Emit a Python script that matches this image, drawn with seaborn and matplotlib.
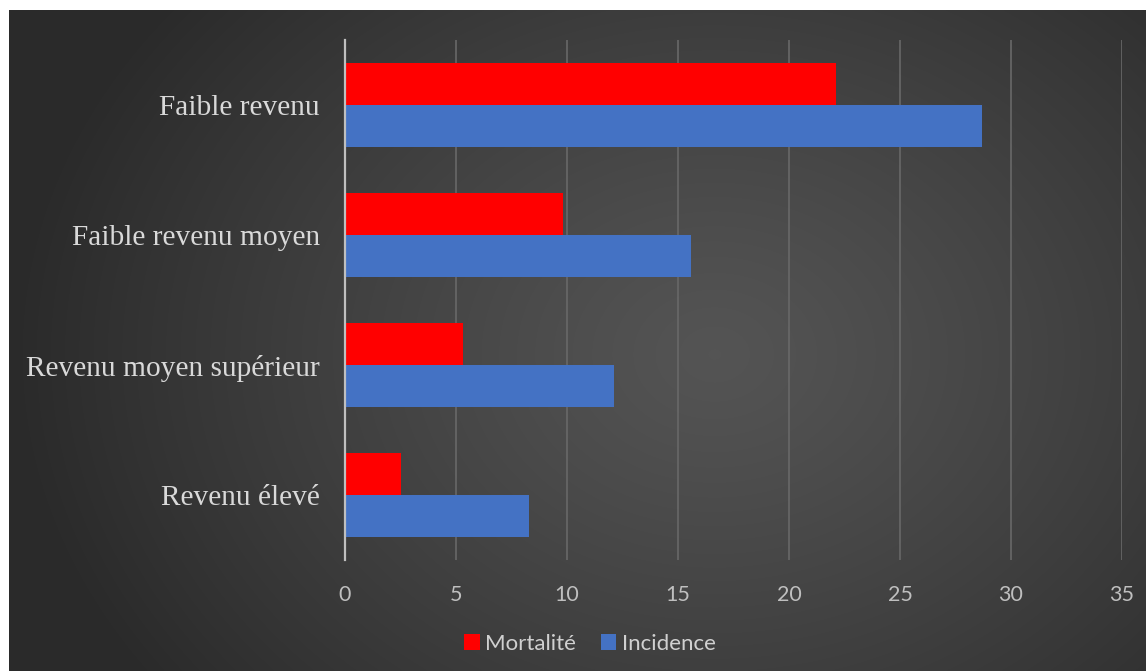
import numpy as np
import pandas as pd
import matplotlib
matplotlib.use("Agg")
import matplotlib.pyplot as plt
import seaborn as sns
from matplotlib.patches import Patch

categories = ["Faible revenu", "Faible revenu moyen", "Revenu moyen supérieur", "Revenu élevé"]
mortalite = [22.1, 9.8, 5.3, 2.5]
incidence = [28.7, 15.6, 12.1, 8.3]
series = ["Mortalité", "Incidence"]
colors = ["#FF0000", "#4472C4"]
xticks = [0, 5, 10, 15, 20, 25, 30, 35]

df = pd.DataFrame({
    "cat": categories * 2,
    "val": mortalite + incidence,
    "serie": [series[0]] * len(categories) + [series[1]] * len(categories),
})

sns.set_theme(style="white")
plt.rcParams["font.family"] = ["DejaVu Sans"]

W, H = 1146, 671
fig = plt.figure(figsize=(W / 100, H / 100), dpi=100)
fig.patch.set_facecolor("white")

# background panel with radial gradient (starts 9px from left, 10px from top)
bx0 = 9 / W
by1 = 1 - 10 / H
bg = fig.add_axes([bx0, 0, 1 - bx0, by1])
bg.set_axis_off()
ny, nx = 400, 700
yy, xx = np.mgrid[0:ny, 0:nx]
cx, cy = nx * 0.62, ny * 0.52
r = np.sqrt(((xx - cx) / (nx * 0.62)) ** 2 + ((yy - cy) / (ny * 0.85)) ** 2)
r = np.clip(r, 0, 1)
val = 0.33 - (0.33 - 0.165) * r ** 1.2
img = np.dstack([val, val, val])
bg.imshow(img, aspect="auto", extent=[0, 1, 0, 1], interpolation="bilinear")
bg.set_xlim(0, 1)
bg.set_ylim(0, 1)

ax = fig.add_axes([345 / W, 1 - 560 / H, (1122 - 345) / W, (560 - 40) / H])
ax.set_facecolor("none")
ax.patch.set_alpha(0)

sns.barplot(data=df, y="cat", x="val", hue="serie", order=categories,
            hue_order=series, palette=colors, orient="h", width=0.646,
            gap=0, ax=ax, legend=False, saturation=1, edgecolor="none")

ax.set_xlim(0, 35)
ax.set_ylim(3.5, -0.5)
ax.set_xticks(xticks)
ax.set_xticklabels([str(t) for t in xticks])
ax.grid(axis="x", color="#686868", linewidth=1.2)
ax.grid(axis="y", visible=False)
ax.set_axisbelow(True)
for s in ["top", "right", "bottom"]:
    ax.spines[s].set_visible(False)
ax.spines["left"].set_color("#bfbfbf")
ax.spines["left"].set_linewidth(1.6)
ax.set_xlabel("")
ax.set_ylabel("")
ax.tick_params(axis="x", length=0, pad=18, labelsize=15.5, labelcolor="#bfbfbf")
ax.tick_params(axis="y", length=0, pad=18, labelcolor="#d9d9d9")
for lab in ax.get_xticklabels():
    lab.set_family("Lato")
for lab in ax.get_yticklabels():
    lab.set_family("Liberation Serif")
    lab.set_fontsize(21.2)

handles = [Patch(facecolor=c, edgecolor="none") for c in colors]
fig.legend(handles, series, loc="center", bbox_to_anchor=(590 / W, 1 - 644 / H),
           ncol=2, frameon=False, handlelength=0.7, handleheight=0.7,
           handletextpad=0.25, columnspacing=1.1,
           prop={"family": "Lato", "size": 16}, labelcolor="#d0d0d0")

fig.savefig("out.png", dpi=100)
